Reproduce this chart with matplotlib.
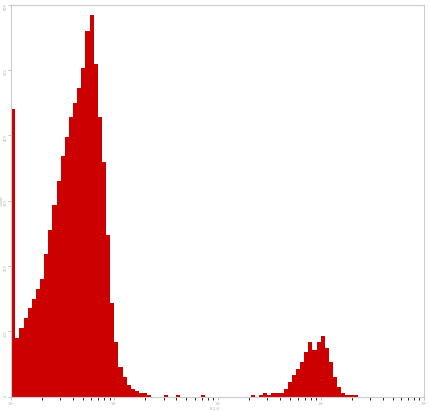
import numpy as np
import matplotlib
matplotlib.use("Agg")
import matplotlib.pyplot as plt

# counts per log-spaced bin (100 bins over 10^0..10^4)
counts = [440, 90, 105, 120, 135, 150, 165, 180, 218, 255,
          293, 330, 368, 398, 428, 450, 473, 503, 560, 585,
          510, 428, 360, 248, 143, 83, 45, 30, 18, 12,
          9, 6, 5, 3, 0, 0, 0, 2, 0, 0,
          2, 0, 0, 0, 0, 0, 2, 0, 0, 0,
          0, 0, 0, 0, 0, 0, 0, 0, 2, 0,
          3, 5, 3, 5, 5, 6, 12, 23, 33, 42,
          53, 68, 83, 72, 83, 93, 75, 53, 30, 15,
          6, 3, 3, 2, 0, 0, 0, 0, 0, 0,
          0, 0, 0, 0, 0, 0, 0, 0, 0, 0]
edges = np.logspace(0, 4, len(counts) + 1)
ytick_vals = [0, 100, 200, 300, 400, 500, 600]
xtick_labels = ["10$^0$", "10$^1$", "10$^2$", "10$^3$", "10$^4$"]

fig = plt.figure(figsize=(4.29, 4.11), dpi=100)
ax = fig.add_axes([0.026, 0.035, 0.962, 0.953])
ax.stairs(counts, edges, fill=True, color="#cc0000", edgecolor="#cc0000")
ax.set_xscale("log")
ax.set_xlim(1, 1e4)
ax.set_ylim(0, 600)
ax.set_yticks(ytick_vals)
ax.set_yticklabels([str(v) for v in ytick_vals])
ax.set_xticks([1, 10, 100, 1000, 10000])
ax.set_xticklabels(xtick_labels)
ax.tick_params(labelsize=2.5, colors="#aaaaaa", length=2, width=0.5, pad=0.5)
ax.tick_params(axis="y", labelrotation=90)
for s in ax.spines.values():
    s.set_color("#cccccc")
    s.set_linewidth(0.8)
fig.text(0.5, 0.0, "FL2-H", fontsize=2.5, color="#aaaaaa", ha="center", va="bottom")
ax.set_ylabel("Count", fontsize=2.5, color="#aaaaaa", labelpad=0)
fig.savefig("out.png", dpi=100)
